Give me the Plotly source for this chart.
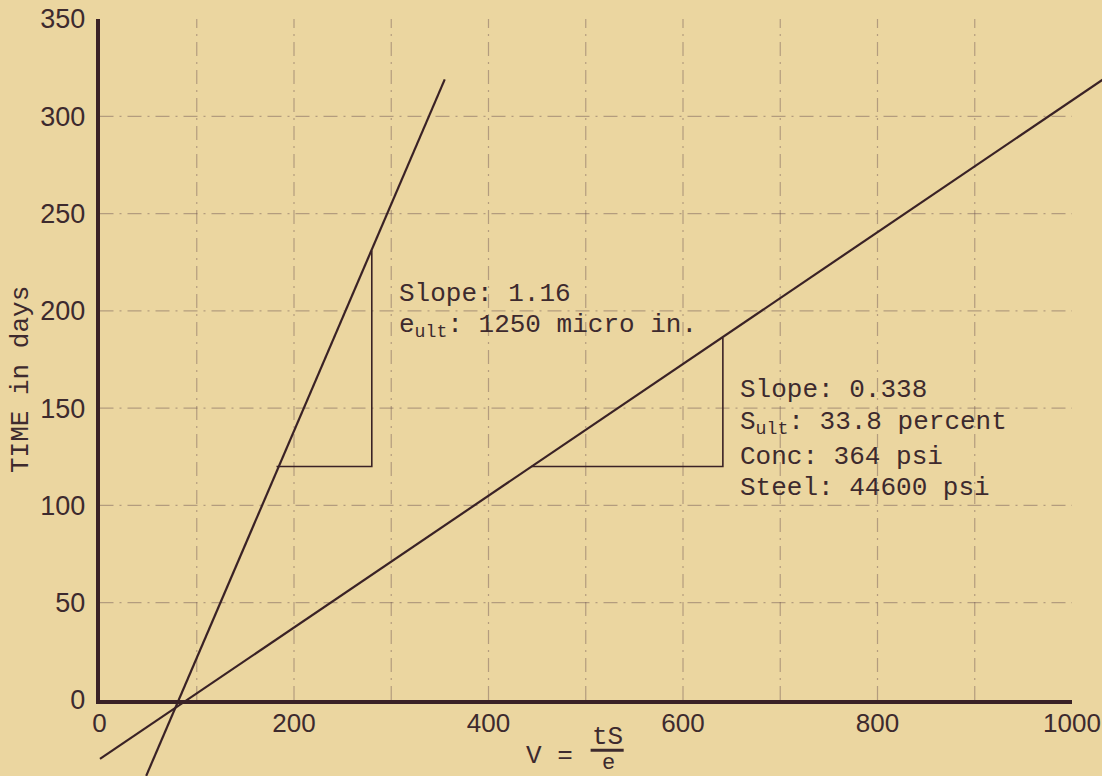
import plotly.graph_objects as go

# ---------------- data ----------------
x_tick_vals = [0, 200, 400, 600, 800, 1000]
x_tick_text = ["0", "200", "400", "600", "800", "1000"]
y_tick_vals = [0, 50, 100, 150, 200, 250, 300, 350]
y_tick_text = ["0", "50", "100", "150", "200", "250", "300", "350"]
grid_v = [100, 200, 300, 400, 500, 600, 700, 800, 900]
grid_t = [50, 100, 150, 200, 250, 300]

# steep line (slope 1.16) end points: V, TIME
steep_v = [48, 355]
steep_t = [-39, 319]
# shallow line (slope 0.338) end points
shallow_v = [0.5, 1035]
shallow_t = [-30.3, 320]
# slope triangles
tri1_v = [182, 280, 280]
tri1_t = [120, 120, 231]
tri2_v = [444, 641, 641]
tri2_t = [120, 120, 186]

# ---------------- styling ----------------
W, H = 1102, 776
plot_left, plot_right = 99.5, 1072.0
plot_top, plot_bottom = 19.0, 700.0
x_range = [0, 1000]
y_range = [0, 350]
kx = (plot_right - plot_left) / (x_range[1] - x_range[0])
ky = (plot_bottom - plot_top) / (y_range[1] - y_range[0])
x2_range = [x_range[0] - plot_left / kx, x_range[0] + (W - plot_left) / kx]
y2_range = [y_range[0] - (H - plot_bottom) / ky, y_range[0] + plot_bottom / ky]

paper = "#ebd6a0"
ink = "#3a2226"
type_ink = "#3d2a2e"
grid_col = "rgba(95,70,75,0.4)"
mono = "Liberation Mono, DejaVu Sans Mono, monospace"
sans = "Liberation Sans, Arial, sans-serif"

fig = go.Figure()

# grid lines (main axes)
gx, gy = [], []
for v in grid_v:
    gx += [v, v, None]
    gy += [y_range[0], y_range[1], None]
fig.add_trace(go.Scatter(x=gx, y=gy, mode="lines", xaxis="x", yaxis="y",
                         line=dict(color=grid_col, width=1.2, dash="14px,6px,2px,6px"),
                         hoverinfo="skip", showlegend=False))
hx, hy = [], []
for t in grid_t:
    hx += [x_range[0], x_range[1], None]
    hy += [t, t, None]
fig.add_trace(go.Scatter(x=hx, y=hy, mode="lines", xaxis="x", yaxis="y",
                         line=dict(color=grid_col, width=1.2, dash="14px,6px,2px,6px"),
                         hoverinfo="skip", showlegend=False))

# data lines on the full-canvas overlay axes
fig.add_trace(go.Scatter(x=steep_v, y=steep_t, mode="lines", xaxis="x2", yaxis="y2",
                         line=dict(color=ink, width=2.2), showlegend=False))
fig.add_trace(go.Scatter(x=shallow_v, y=shallow_t, mode="lines", xaxis="x2", yaxis="y2",
                         line=dict(color=ink, width=2.2), showlegend=False))
fig.add_trace(go.Scatter(x=tri1_v, y=tri1_t, mode="lines", xaxis="x2", yaxis="y2",
                         line=dict(color=ink, width=1.6), showlegend=False))
fig.add_trace(go.Scatter(x=tri2_v, y=tri2_t, mode="lines", xaxis="x2", yaxis="y2",
                         line=dict(color=ink, width=1.6), showlegend=False))

anns = []
def note(text, v, t, size=26, xanchor="left", yanchor="middle", angle=0):
    anns.append(dict(text=text, x=v, y=t, xref="x2", yref="y2", showarrow=False,
                     xanchor=xanchor, yanchor=yanchor, textangle=angle,
                     font=dict(family=mono, size=size, color=type_ink)))

note("Slope: 1.16", 305.6, 208.6)
note("e<sub>ult</sub>: 1250 micro in.", 305.6, 192.0)
note("Slope: 0.338", 656.5, 159.3)
note("S<sub>ult</sub>: 33.8 percent", 656.5, 142.3)
note("Conc: 364 psi", 656.5, 124.9)
note("Steel: 44600 psi", 656.5, 108.9)
# axis titles
note("V =", 463.0, -28.8, size=26, xanchor="center")
note("tS", 521.9, -19.0, size=26, xanchor="center")
note("e", 522.9, -32.4, size=22, xanchor="center")
anns.append(dict(text="TIME in days", x=21 / W, y=1 - 380 / H, xref="paper", yref="paper",
                 showarrow=False, textangle=-90, xanchor="center", yanchor="middle",
                 font=dict(family=mono, size=26, color=type_ink)))

shapes = [dict(type="line", xref="x2", yref="y2", x0=505, x1=539, y0=-25.8, y1=-25.8,
               line=dict(color=type_ink, width=3))]

fig.update_layout(
    width=W, height=H,
    margin=dict(l=0, r=0, t=0, b=0, autoexpand=False),
    paper_bgcolor=paper, plot_bgcolor="rgba(0,0,0,0)",
    showlegend=False,
    annotations=anns, shapes=shapes,
    xaxis=dict(domain=[plot_left / W, plot_right / W], range=x_range, anchor="y",
               automargin=False,
               tickvals=x_tick_vals, ticktext=x_tick_text, showgrid=False, zeroline=False,
               showline=True, linewidth=3.5, linecolor=ink, ticks="",
               ticklabelstandoff=-3,
               tickfont=dict(family=sans, size=26, color=type_ink)),
    yaxis=dict(domain=[1 - plot_bottom / H, 1 - plot_top / H], range=y_range, anchor="x",
               automargin=False,
               tickvals=y_tick_vals, ticktext=y_tick_text, showgrid=False, zeroline=False,
               showline=True, linewidth=3.5, linecolor=ink, ticks="",
               ticklabelstandoff=5,
               tickfont=dict(family=sans, size=27, color=type_ink)),
    xaxis2=dict(domain=[0, 1], range=x2_range, anchor="y2", visible=False, automargin=False),
    yaxis2=dict(domain=[0, 1], range=y2_range, anchor="x2", visible=False, automargin=False),
)

fig.write_html("out.html")
